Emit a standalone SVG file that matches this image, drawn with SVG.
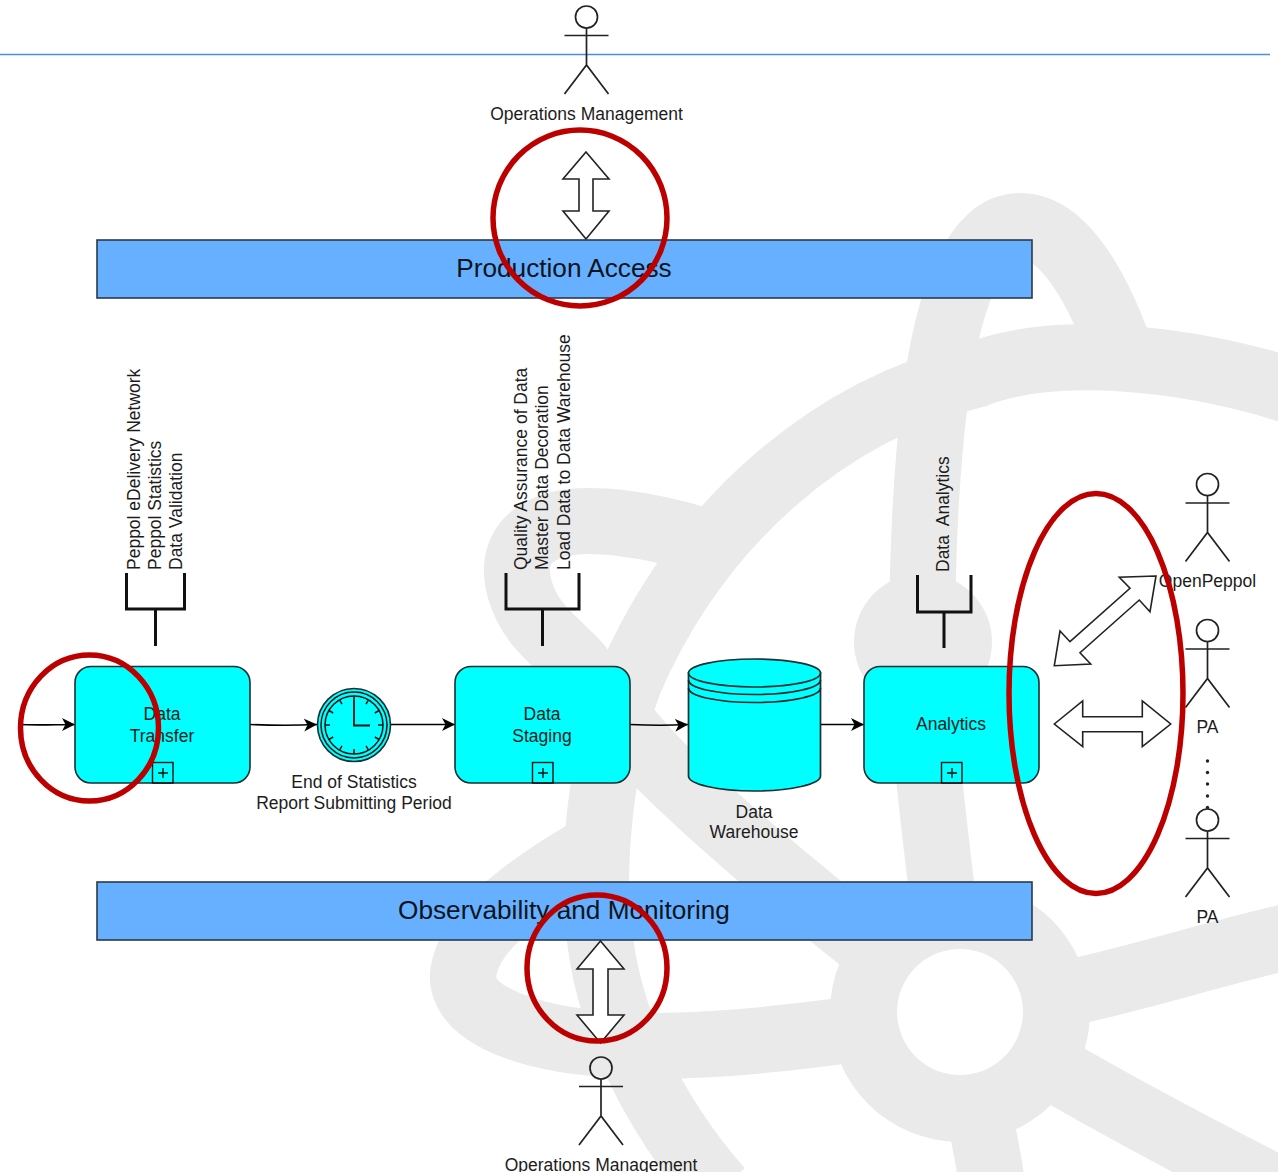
<svg xmlns="http://www.w3.org/2000/svg" xmlns:xlink="http://www.w3.org/1999/xlink" width="1278" height="1172" viewBox="0 0 1278 1172">
<style>
text{font-family:"Liberation Sans",Arial,sans-serif;font-size:17.5px;fill:#1c1c1c;white-space:pre}
.mid{text-anchor:middle}
.bar{fill:#66B0FF;stroke:#2b3a4a;stroke-width:1.6}
.barT{font-size:26.200px;text-anchor:middle;fill:#0c1420}
.task{fill:#00FFFF;stroke:#1c2e30;stroke-width:1.6}
.plus{fill:none;stroke:#111;stroke-width:1.4}
.ln{fill:none;stroke:#222;stroke-width:1.7}
.arr{fill:#fff;stroke:#222;stroke-width:1.6;stroke-linejoin:miter}
.brk{fill:none;stroke:#111;stroke-width:3}
.wm{fill:none;stroke:#EAEAEA;stroke-width:66}
.red{fill:none;stroke:#BC0000;stroke-width:5.500}
.flow{fill:none;stroke:#000;stroke-width:1.6;marker-end:url(#head)}
.tick{stroke:#111;stroke-width:1.5}
</style>
<defs>
<marker id="head" markerUnits="userSpaceOnUse" markerWidth="16" markerHeight="14" refX="13" refY="7" orient="auto">
<path d="M0,0.5 L13,7 L0,13.5 L3.5,7 Z" fill="#000"/>
</marker>
<g id="actor">
<circle cx="0" cy="0" r="11" fill="none" stroke="#222" stroke-width="1.7"/>
<path class="ln" d="M0,11 V48 M-22,18.500 H22 M-22,77 L0,48 L22,77"/>
</g>
</defs>
<rect width="1278" height="1172" fill="#fff"/>
<g id="watermark">
<path class="wm" d="M1125,365 C1100,290 1065,226 1020,226 C975,226 947,300 935,400 C925,480 915,640 930,787 C940,880 950,960 960,1012 C970,1080 985,1130 992,1185"/>
<path class="wm" d="M1295,392 C1180,355 1050,345 975,375 C830,410 700,520 630,680 C600,760 590,870 600,940 C610,1020 650,1110 720,1190"/>
<path class="wm" d="M700,540 C650,525 590,515 555,525 C525,535 510,555 520,590 C530,625 555,640 578,665 C600,695 630,735 660,765 C720,825 860,945 960,1012 C1050,1070 1170,1135 1295,1198"/>
<path class="wm" d="M1295,935 C1180,962 1070,1000 960,1012 C860,1030 720,1050 620,1045 C520,1040 450,1010 465,965 C475,925 530,885 590,850"/>
<circle cx="960" cy="1012" r="130" fill="#EAEAEA"/>
<circle cx="960" cy="1012" r="63" fill="#fff"/>
<circle cx="923" cy="642" r="69" fill="#EAEAEA"/>
</g>
<path id="top-rule" d="M0,54.500 H1270" stroke="#4A90E2" stroke-width="1.3" fill="none"/>
<g id="actor-ops-top"><use xlink:href="#actor" href="#actor" x="586.500" y="17"/><text class="mid" x="586.500" y="119.500">Operations Management</text></g>
<g id="arrow-top"><path class="arr" d="M586,152 L609,179 H593 V211 H609 L586,239 L563,211 H579 V179 H563 Z"/></g>
<g id="bar-production"><rect class="bar" x="97" y="240" width="935" height="58"/><text class="barT" x="564" y="277">Production Access</text></g>
<g id="note-transfer">
<path class="brk" d="M126.500,573 V609 H184.500 V573 M155.500,609 V646"/>
<g transform="translate(140,570) rotate(-90)"><text>Peppol eDelivery Network</text></g>
<g transform="translate(161,570) rotate(-90)"><text>Peppol Statistics</text></g>
<g transform="translate(182,570) rotate(-90)"><text>Data Validation</text></g>
</g>
<g id="note-staging">
<path class="brk" d="M506,573 V609 H579 V573 M542.500,609 V646"/>
<g transform="translate(527,570) rotate(-90)"><text>Quality Assurance of Data</text></g>
<g transform="translate(548,570) rotate(-90)"><text>Master Data Decoration</text></g>
<g transform="translate(570,570) rotate(-90)"><text>Load Data to Data Warehouse</text></g>
</g>
<g id="note-analytics">
<path class="brk" d="M917.500,575 V612 H971 V575 M944,612 V648"/>
<g transform="translate(949,572) rotate(-90)"><text>Data  Analytics</text></g>
</g>
<g id="connectors">
<path class="flow" d="M18,724.500 C40,725.500 55,724.500 75,724.500"/>
<path class="flow" d="M250,724.500 C275,725.500 295,725.500 317,724.500"/>
<path class="flow" d="M391,724.500 H455"/>
<path class="flow" d="M630,724.500 C650,725.500 670,725.500 688,724.500"/>
<path class="flow" d="M820,724.500 H864"/>
</g>
<g id="task-transfer">
<rect class="task" x="75" y="666.500" width="175" height="116.500" rx="16"/>
<rect class="plus" x="152.500" y="762.500" width="20.500" height="20.500"/>
<path class="plus" d="M158,773 H168 M163,768 V778"/>
<text class="mid" x="162" y="719.500">Data</text><text class="mid" x="162" y="742">Transfer</text>
</g>
<g id="timer-event">
<circle cx="354" cy="725" r="36.500" fill="#00FFFF" stroke="#1c2e30" stroke-width="1.6"/>
<circle cx="354" cy="725" r="33" fill="none" stroke="#111" stroke-width="1.5"/>
<circle cx="354" cy="725" r="29" fill="#00FFFF" stroke="#111" stroke-width="1.5"/>
<g class="tick">
<path d="M354,696 V701"/><path d="M354,754 V749"/><path d="M325,725 H330"/><path d="M383,725 H378"/>
<path d="M368.500,699.900 L366,704.200"/><path d="M339.500,750.100 L342,745.800"/>
<path d="M379.100,710.500 L374.800,713"/><path d="M328.900,739.500 L333.200,737"/>
<path d="M379.100,739.500 L374.800,737"/><path d="M328.900,710.500 L333.200,713"/>
<path d="M368.500,750.100 L366,745.800"/><path d="M339.500,699.900 L342,704.200"/>
</g>
<path d="M354,700 V725.500 H370" fill="none" stroke="#111" stroke-width="1.8"/>
<text class="mid" x="354" y="788">End of Statistics</text><text class="mid" x="354" y="809">Report Submitting Period</text>
</g>
<g id="task-staging">
<rect class="task" x="455" y="666.500" width="175" height="116.500" rx="16"/>
<rect class="plus" x="532.500" y="762.500" width="20.500" height="20.500"/>
<path class="plus" d="M538,773 H548 M543,768 V778"/>
<text class="mid" x="542" y="719.500">Data</text><text class="mid" x="542" y="742">Staging</text>
</g>
<g id="data-warehouse">
<path d="M688.500,673 V776 C688.500,784 717,791 754.500,791 C791,791 820.500,784 820.500,776 V673 Z" fill="#00FFFF" stroke="#1c2e30" stroke-width="1.7"/>
<ellipse cx="754.500" cy="673" rx="66" ry="14" fill="#00FFFF" stroke="#1c2e30" stroke-width="1.7"/>
<path class="ln" d="M688.500,680 C688.500,688 717,694.500 754.500,694.500 C791,694.500 820.500,688 820.500,680 M688.500,688 C688.500,696 717,702.500 754.500,702.500 C791,702.500 820.500,696 820.500,688"/>
<text class="mid" x="754" y="817.500">Data</text><text class="mid" x="754" y="837.500">Warehouse</text>
</g>
<g id="task-analytics">
<rect class="task" x="864" y="666.500" width="175" height="116.500" rx="16"/>
<rect class="plus" x="941.500" y="762.500" width="20.500" height="20.500"/>
<path class="plus" d="M947,773 H957 M952,768 V778"/>
<text class="mid" x="951" y="730">Analytics</text>
</g>
<g id="arrow-diagonal"><path class="arr" d="M1156,576 L1119.300,577.300 L1130,588.300 L1070,641.700 L1060,631 L1054.300,665.700 L1090.700,664 L1080,652.700 L1139.300,600 L1150,611.700 Z"/></g>
<g id="arrow-horizontal"><path class="arr" d="M1054.300,724 L1082.700,701 V716.700 H1142.300 V701 L1170.700,724 L1142.300,746.700 V731.700 H1082.700 V746.700 Z"/></g>
<g id="actor-openpeppol"><use xlink:href="#actor" href="#actor" x="1207.500" y="484.500"/><text class="mid" x="1207.500" y="586.500">OpenPeppol</text></g>
<g id="actor-pa-1"><use xlink:href="#actor" href="#actor" x="1207.500" y="630.500"/><text class="mid" x="1207.500" y="732.500">PA</text></g>
<g id="ellipsis" fill="#222">
<circle cx="1207.500" cy="761" r="1.700"/><circle cx="1207.500" cy="772.500" r="1.700"/><circle cx="1207.500" cy="784" r="1.700"/><circle cx="1207.500" cy="796" r="1.700"/><circle cx="1207.500" cy="807.500" r="1.700"/>
</g>
<g id="actor-pa-2"><use xlink:href="#actor" href="#actor" x="1207.500" y="820"/><text class="mid" x="1207.500" y="922.500">PA</text></g>
<g id="bar-observability"><rect class="bar" x="97" y="882" width="935" height="58"/><text class="barT" x="564" y="919">Observability and Monitoring</text></g>
<g id="arrow-bottom"><path class="arr" d="M600.500,941 L624,969 H608 V1015 H624 L600.500,1043 L577,1015 H593 V969 H577 Z"/></g>
<g id="actor-ops-bottom"><use xlink:href="#actor" href="#actor" x="601" y="1068"/><text class="mid" x="601" y="1170.500">Operations Management</text></g>
<g id="highlights">
<ellipse class="red" cx="580" cy="218" rx="87" ry="88"/>
<ellipse class="red" cx="89.500" cy="728" rx="69" ry="73"/>
<ellipse class="red" cx="1096" cy="693.500" rx="87" ry="200"/>
<ellipse class="red" cx="597" cy="968" rx="70" ry="73"/>
</g>
</svg>
